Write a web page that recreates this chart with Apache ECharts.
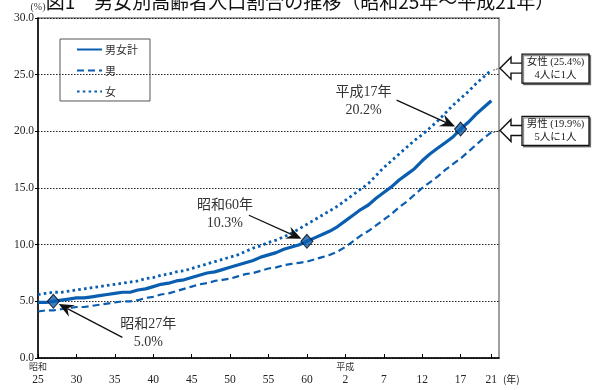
<!DOCTYPE html>
<html>
<head>
<meta charset="utf-8">
<script src="https://cdn.jsdelivr.net/npm/echarts@6/dist/echarts.min.js"></script>
<style>
  html, body { margin: 0; padding: 0; background: #fff; }
  #chart { width: 600px; height: 390px; }
</style>
</head>
<body>
<div id="chart"></div>
<script>
// Share of population aged 65+ by sex, 1950–2009 (%)
const startYear = 1950;
const endYear = 2010;

const total = [
  4.9, 4.9, 5.0, 5.1, 5.2, 5.3, 5.3, 5.4, 5.5, 5.6,
  5.7, 5.8, 5.8, 6.0, 6.1, 6.3, 6.5, 6.6, 6.8, 6.9,
  7.1, 7.3, 7.5, 7.6, 7.8, 8.0, 8.2, 8.4, 8.6, 8.9,
  9.1, 9.3, 9.6, 9.8, 10.0, 10.3, 10.6, 10.9, 11.2, 11.6,
  12.1, 12.6, 13.1, 13.5, 14.1, 14.6, 15.1, 15.7, 16.2, 16.7,
  17.4, 18.0, 18.5, 19.0, 19.5, 20.2, 20.8, 21.5, 22.1, 22.7
];
const male = [
  4.1, 4.2, 4.2, 4.3, 4.4, 4.5, 4.5, 4.6, 4.7, 4.8,
  4.9, 5.0, 5.0, 5.1, 5.3, 5.4, 5.6, 5.7, 5.9, 6.1,
  6.3, 6.5, 6.6, 6.8, 6.9, 7.0, 7.2, 7.4, 7.5, 7.7,
  7.9, 8.0, 8.2, 8.3, 8.4, 8.5, 8.7, 8.9, 9.1, 9.4,
  9.8, 10.3, 10.8, 11.2, 11.7, 12.2, 12.7, 13.3, 13.8, 14.4,
  15.0, 15.5, 16.0, 16.6, 17.1, 17.6, 18.2, 18.8, 19.4, 19.9
];
const female = [
  5.6, 5.7, 5.8, 5.8, 5.9, 6.0, 6.1, 6.2, 6.3, 6.4,
  6.5, 6.6, 6.7, 6.8, 7.0, 7.1, 7.3, 7.4, 7.6, 7.7,
  7.9, 8.1, 8.3, 8.5, 8.7, 8.9, 9.1, 9.4, 9.7, 9.9,
  10.2, 10.4, 10.7, 11.0, 11.4, 11.8, 12.2, 12.6, 13.0, 13.4,
  13.9, 14.4, 14.9, 15.4, 16.1, 16.8, 17.4, 18.0, 18.6, 19.2,
  19.7, 20.3, 20.9, 21.6, 22.3, 22.9, 23.5, 24.2, 24.8, 25.4
];

const seriesNames = ['男女計', '男', '女'];
const markedYears = [1952, 1985, 2005];
const tickYears = [1950, 1955, 1960, 1965, 1970, 1975, 1980, 1985, 1990, 1995, 2000, 2005, 2009];
const yTicks = [0, 5, 10, 15, 20, 25, 30];
const calloutNotes = ['4人に1人', '5人に1人'];

const years = [];
for (let y = startYear; y <= endYear; y++) years.push(String(y));

const BLUE = '#0a5eb0';
const SERIF = "'Liberation Serif', 'Noto Sans CJK JP', serif";
const CJK = "'Noto Sans CJK JP', sans-serif";

function era(year) {
  return year <= 1988 ? { name: '昭和', n: year - 1925 } : { name: '平成', n: year - 1988 };
}

function isTick(index) {
  return tickYears.indexOf(startYear + index) >= 0;
}

const chart = echarts.init(document.getElementById('chart'), null, { renderer: 'canvas' });

chart.setOption({
  animation: false,
  title: {
    text: '図1　男女別高齢者人口割合の推移（昭和25年～平成21年）',
    left: 'center',
    top: -13,
    textStyle: { fontSize: 19, fontWeight: 'normal', fontFamily: CJK, color: '#111' }
  },
  legend: {
    data: seriesNames,
    orient: 'vertical',
    left: 60,
    top: 39,
    padding: [5, 12, 4, 16],
    itemGap: 10,
    itemWidth: 25,
    itemHeight: 10,
    borderColor: '#555',
    borderWidth: 1,
    itemStyle: { opacity: 0, color: 'rgba(0,0,0,0)', borderWidth: 0 },
    textStyle: { fontFamily: CJK, fontSize: 11, color: '#333', padding: [0, 0, 0, -2] }
  },
  grid: {
    left: 38, right: 101, top: 18, bottom: 32,
    show: true, borderColor: '#808080', borderWidth: 1.5
  },
  xAxis: {
    type: 'category',
    data: years,
    boundaryGap: false,
    name: '(年)',
    nameLocation: 'end',
    nameGap: -3,
    nameTextStyle: { fontFamily: CJK, fontSize: 10, color: '#222', verticalAlign: 'top', padding: [16, 0, 0, 0] },
    axisLine: { lineStyle: { color: '#000', width: 1.5 } },
    axisTick: { inside: true, length: 4, interval: (i) => isTick(i), lineStyle: { color: '#000' } },
    axisLabel: {
      interval: (i) => isTick(i),
      margin: 3,
      formatter: (v) => {
        const y = Number(v);
        const e = era(y);
        const head = (y === 1950 || y === 1990) ? e.name : ' ';
        return '{e|' + head + '}\n{n|' + e.n + '}';
      },
      rich: {
        e: { fontFamily: CJK, fontSize: 9, color: '#333', lineHeight: 12 },
        n: { fontFamily: SERIF, fontSize: 11.5, color: '#222', lineHeight: 14 }
      }
    },
    splitLine: { show: false }
  },
  yAxis: {
    type: 'value',
    min: yTicks[0],
    max: yTicks[yTicks.length - 1],
    interval: 5,
    name: '(%)',
    nameLocation: 'end',
    nameGap: 3,
    nameTextStyle: { fontFamily: SERIF, fontSize: 10, color: '#333', align: 'center' },
    axisLine: { show: true, lineStyle: { color: '#000', width: 1.5 } },
    axisTick: { show: true, length: 3, lineStyle: { color: '#000' } },
    axisLabel: {
      margin: 4,
      formatter: (v) => v.toFixed(1),
      fontFamily: SERIF, fontSize: 11.5, color: '#222'
    },
    splitLine: { show: true, lineStyle: { color: '#222', type: [1.5, 1.5], width: 1 } }
  },
  series: [
    {
      name: seriesNames[0], type: 'line', data: total, symbol: 'none', z: 4,
      lineStyle: { color: BLUE, width: 3.2 }, itemStyle: { color: BLUE }
    },
    {
      name: seriesNames[1], type: 'line', data: male, symbol: 'none', z: 3,
      lineStyle: { color: BLUE, width: 2.2, type: [7, 4] }, itemStyle: { color: BLUE }
    },
    {
      name: seriesNames[2], type: 'line', data: female, symbol: 'none', z: 3,
      lineStyle: { color: BLUE, width: 2.8, type: [2.6, 3.2] }, itemStyle: { color: BLUE }
    },
    {
      name: 'marked', type: 'scatter', z: 6,
      data: markedYears.map((y) => [y - startYear, total[y - startYear]]),
      symbol: 'diamond', symbolSize: [12, 14],
      itemStyle: { color: BLUE, borderColor: '#000', borderWidth: 1 }
    }
  ]
});

// Annotation arrows, labels and right-hand callouts
function arrowEls(sx, sy, px, py) {
  const dx = px - sx, dy = py - sy;
  const L = Math.hypot(dx, dy);
  const ux = dx / L, uy = dy / L, nx = -uy, ny = ux;
  const tx = px - ux * 6, ty = py - uy * 6;
  const hl = 15, hw = 6.5;
  const bx = tx - ux * hl, by = ty - uy * hl;
  const cx = tx - ux * hl * 0.65, cy = ty - uy * hl * 0.65;
  return [
    { type: 'line', z: 10, shape: { x1: sx, y1: sy, x2: cx, y2: cy }, style: { stroke: '#111', lineWidth: 1.3 } },
    { type: 'polygon', z: 10, shape: { points: [[tx, ty], [bx + nx * hw, by + ny * hw], [cx, cy], [bx - nx * hw, by - ny * hw]] }, style: { fill: '#111' } }
  ];
}

const labelLayout = [
  { text: [95, 32], start: [69, 36] },
  { text: [-82, -27], start: [-58, -26] },
  { text: [-97, -28], start: [-64, -29] }
];

const els = [];
markedYears.forEach((y, k) => {
  const i = y - startYear;
  const p = chart.convertToPixel({ seriesIndex: 0 }, [i, total[i]]);
  const lay = labelLayout[k];
  const e = era(y);
  els.push({
    type: 'text', z: 10,
    x: p[0] + lay.text[0], y: p[1] + lay.text[1],
    style: {
      text: e.name + e.n + '年\n' + total[i].toFixed(1) + '%',
      textAlign: 'center', textVerticalAlign: 'middle',
      font: '14px ' + SERIF, fill: '#333', lineHeight: 18
    }
  });
  els.push(...arrowEls(p[0] + lay.start[0], p[1] + lay.start[1], p[0], p[1]));
});

const last = total.length - 1;
const rightEdge = chart.convertToPixel({ xAxisIndex: 0 }, years.length - 1);
const callouts = [
  { label: '女性', value: female[last], note: calloutNotes[0] },
  { label: '男性', value: male[last], note: calloutNotes[1] }
];
callouts.forEach((c) => {
  const p = chart.convertToPixel({ seriesIndex: 0 }, [last, c.value]);
  const y = p[1] - 2;
  const tip = rightEdge + 1;
  els.push({
    type: 'line', z: 9,
    shape: { x1: p[0] + 2, y1: p[1], x2: tip, y2: y },
    style: { stroke: '#333', lineWidth: 1, lineDash: [1.5, 1.5] }
  });
  els.push({
    type: 'polygon', z: 11,
    shape: { points: [[tip, y], [tip + 11, y - 11], [tip + 11, y - 5], [tip + 23, y - 5], [tip + 23, y + 5], [tip + 11, y + 5], [tip + 11, y + 11]] },
    style: { fill: '#fff', stroke: '#111', lineWidth: 1.4 }
  });
  els.push({
    type: 'rect', z: 12,
    shape: { x: tip + 22, y: y - 14, width: 67, height: 29 },
    style: { fill: '#fff', stroke: '#111', lineWidth: 1.3, shadowColor: 'rgba(0,0,0,0.45)', shadowOffsetX: 1.5, shadowOffsetY: 1.5, shadowBlur: 0 }
  });
  els.push({
    type: 'text', z: 13,
    x: tip + 22 + 33.5, y: y + 0.5,
    style: {
      text: c.label + ' (' + c.value.toFixed(1) + '%)\n' + c.note,
      textAlign: 'center', textVerticalAlign: 'middle',
      font: '10.5px ' + SERIF, fill: '#222', lineHeight: 13
    }
  });
});

chart.setOption({ graphic: els });
</script>
</body>
</html>
